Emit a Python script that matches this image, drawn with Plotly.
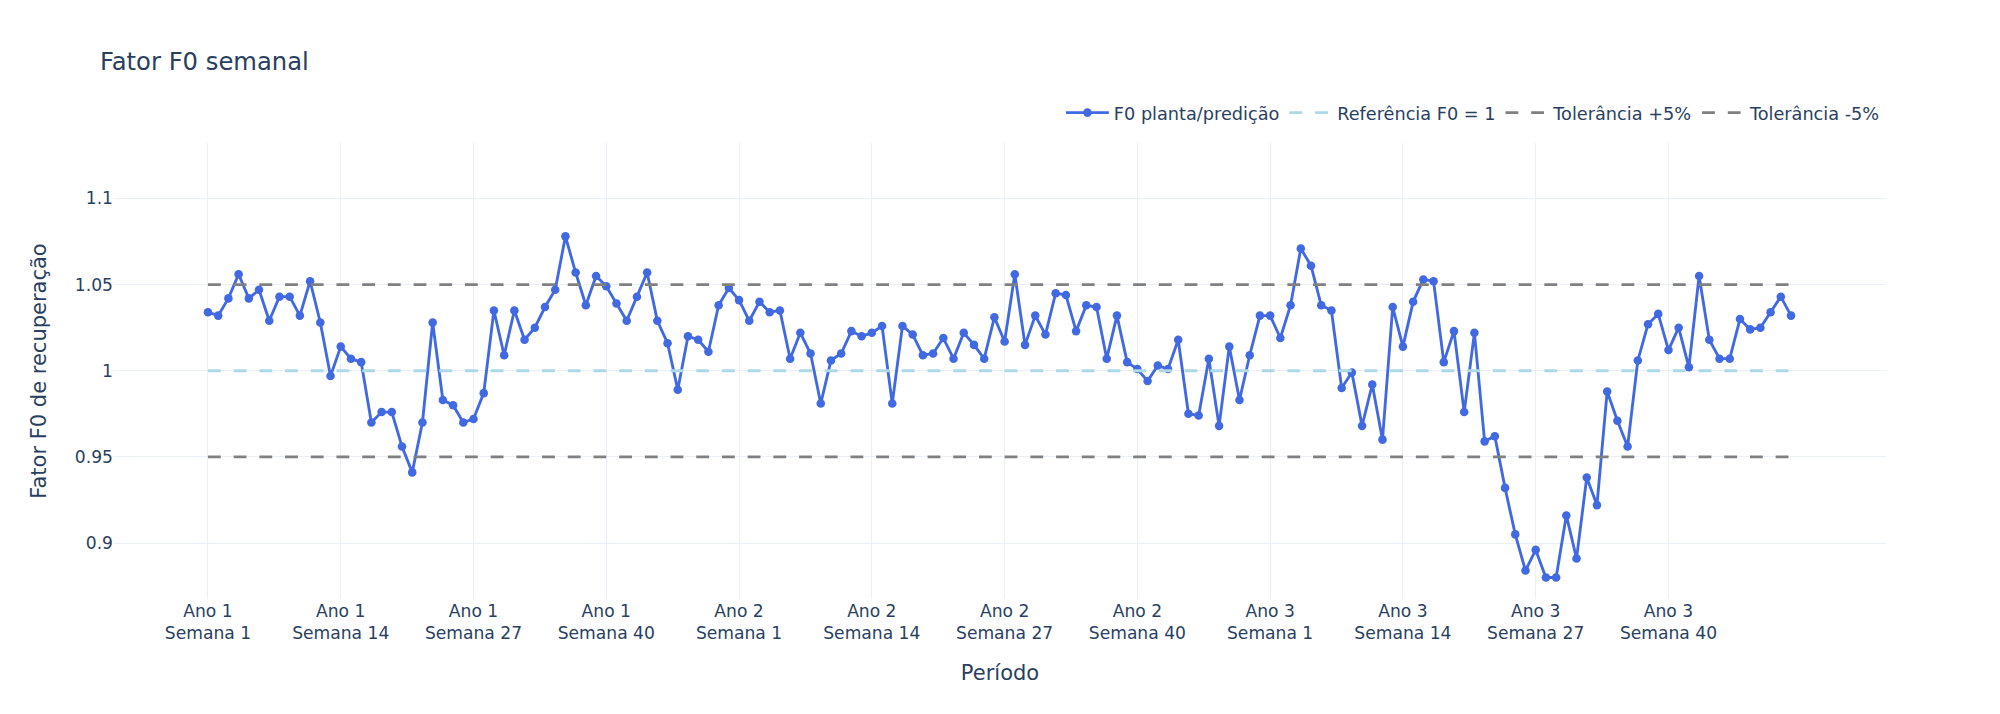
import plotly.graph_objects as go

# Períodos semanais (3 anos x 52 semanas)
anos = [1, 2, 3]
semanas = list(range(1, 53))
periodos = [f"Ano {a} - Semana {s}" for a in anos for s in semanas]

# Fator F0 planta/predição, lido semana a semana
f0 = [
    1.034, 1.032, 1.042, 1.056, 1.042, 1.047, 1.029, 1.043, 1.043, 1.032,
    1.052, 1.028, 0.997, 1.014, 1.007, 1.005, 0.970, 0.976, 0.976, 0.956,
    0.941, 0.970, 1.028, 0.983, 0.980, 0.970, 0.972, 0.987, 1.035, 1.009,
    1.035, 1.018, 1.025, 1.037, 1.047, 1.078, 1.057, 1.038, 1.055, 1.049,
    1.039, 1.029, 1.043, 1.057, 1.029, 1.016, 0.989, 1.020, 1.018, 1.011,
    1.038, 1.048, 1.041, 1.029, 1.040, 1.034, 1.035, 1.007, 1.022, 1.010,
    0.981, 1.006, 1.010, 1.023, 1.020, 1.022, 1.026, 0.981, 1.026, 1.021,
    1.009, 1.010, 1.019, 1.007, 1.022, 1.015, 1.007, 1.031, 1.017, 1.056,
    1.015, 1.032, 1.021, 1.045, 1.044, 1.023, 1.038, 1.037, 1.007, 1.032,
    1.005, 1.001, 0.994, 1.003, 1.001, 1.018, 0.975, 0.974, 1.007, 0.968,
    1.014, 0.983, 1.009, 1.032, 1.032, 1.019, 1.038, 1.071, 1.061, 1.038,
    1.035, 0.990, 0.999, 0.968, 0.992, 0.960, 1.037, 1.014, 1.040, 1.053,
    1.052, 1.005, 1.023, 0.976, 1.022, 0.959, 0.962, 0.932, 0.905, 0.884,
    0.896, 0.880, 0.880, 0.916, 0.891, 0.938, 0.922, 0.988, 0.971, 0.956,
    1.006, 1.027, 1.033, 1.012, 1.025, 1.002, 1.055, 1.018, 1.007, 1.007,
    1.030, 1.024, 1.025, 1.034, 1.043, 1.032,
]

referencia = 1.0
tolerancia_sup = 1.05
tolerancia_inf = 0.95

# semanas marcadas no eixo x
semanas_tick = [1, 14, 27, 40]
ticks_periodo = [f"Ano {a} - Semana {s}" for a in anos for s in semanas_tick]
ticks_texto = [p.replace(" - ", "<br>") for p in ticks_periodo]

S = 714 / 500  # escala da figura
fonte = "Verdana, DejaVu Sans, sans-serif"
dash = f"{9 * S:.2f}px,{9 * S:.2f}px"

fig = go.Figure()
fig.add_trace(go.Scatter(
    x=periodos, y=f0, mode="lines+markers", name="F0 planta/predição",
    line=dict(color="royalblue", width=2 * S),
    marker=dict(color="royalblue", size=6 * S),
))
fig.add_trace(go.Scatter(
    x=periodos, y=[referencia] * len(periodos), mode="lines",
    name="Referência F0 = 1",
    line=dict(color="lightblue", width=2 * S, dash=dash),
))
fig.add_trace(go.Scatter(
    x=periodos, y=[tolerancia_sup] * len(periodos), mode="lines",
    name="Tolerância +5%",
    line=dict(color="gray", width=2 * S, dash=dash),
))
fig.add_trace(go.Scatter(
    x=periodos, y=[tolerancia_inf] * len(periodos), mode="lines",
    name="Tolerância -5%",
    line=dict(color="gray", width=2 * S, dash=dash),
))

# a página tem 8 px de margem; a figura é reduzida para compensar
fig.update_layout(
    template="plotly_white",
    width=1992, height=706,
    margin=dict(l=106.3, r=114.3, t=134.7, b=114.7),
    font=dict(family=fonte, size=12 * S, color="#2a3f5f"),
    title=dict(text="Fator F0 semanal", x=92 / 1992, y=0.924,
               yanchor="middle", font=dict(size=17 * S)),
    legend=dict(orientation="h", yanchor="bottom", y=1.025,
                xanchor="right", x=1, font=dict(size=12.4 * S),
                itemwidth=30 * S),
    xaxis=dict(title=dict(text="Período", standoff=22), tickmode="array",
               tickvals=ticks_periodo, ticktext=ticks_texto,
               range=[-9.2, 164.3], gridwidth=S, showline=False),
    yaxis=dict(title=dict(text="Fator F0 de recuperação", standoff=22),
               range=[0.8675, 1.1322], dtick=0.05, gridwidth=S,
               zeroline=False),
)

fig.write_html("out.html")
